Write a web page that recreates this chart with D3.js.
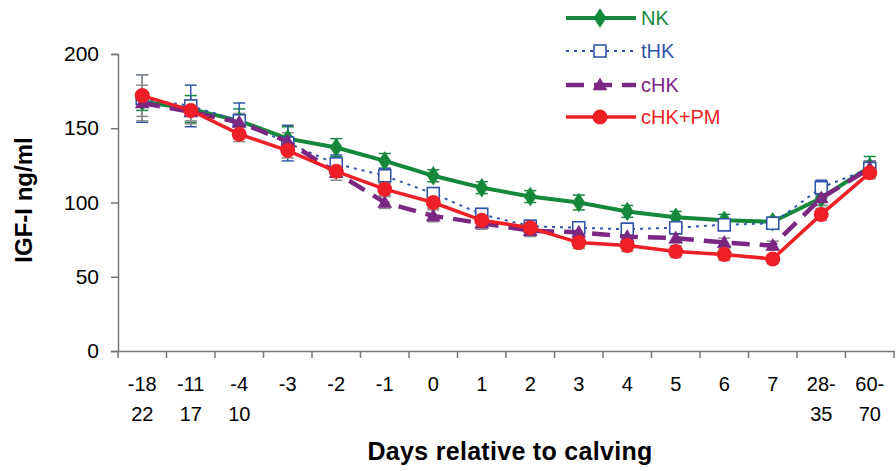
<!DOCTYPE html>
<html>
<head>
<meta charset="utf-8">
<script src="https://cdn.jsdelivr.net/npm/d3@7"></script>
<style>
  body { margin: 0; background: #fff; }
  svg { font-family: "Liberation Sans", Arial, sans-serif; }
</style>
</head>
<body>
<svg id="svg" width="896" height="471"></svg>
<script>
const width = 896;
const height = 471;

// x categories (two-line labels)
const categories = ["-18-22", "-11-17", "-4-10", "-3", "-2", "-1", "0", "1", "2", "3", "4", "5", "6", "7", "28-35", "60-70"];
const labelTop = ["-18", "-11", "-4", "-3", "-2", "-1", "0", "1", "2", "3", "4", "5", "6", "7", "28-", "60-"];
const labelBottom = ["22", "17", "10", "", "", "", "", "", "", "", "", "", "", "", "35", "70"];

const yTicks = [0, 50, 100, 150, 200];

// series means and error bars
const nk = [168, 163, 155, 143, 137, 128, 118, 110, 104, 100, 94, 90, 88, 87, 103, 124];
const nkErr = [6, 9, 8, 8, 6, 5, 4, 4, 4, 5, 4, 4, 4, 3, 5, 7];
const thk = [170, 165, 155, 140, 126, 118, 106, 92, 84, 83, 82, 83, 85, 86, 110, 123];
const thkErr = [16, 14, 12, 12, 6, 5, 4, 4, 4, 4, 4, 4, 4, 4, 5, 5];
const chk = [167, 161, 154, 141, 120, 100, 91, 86, 81, 80, 77, 76, 73, 71, 103, 123];
const chkErr = [12, 8, 6, 6, 5, 4, 4, 4, 4, 4, 4, 3, 3, 3, 5, 5];
const pm = [172, 162, 146, 135, 121, 109, 100, 88, 83, 73, 71, 67, 65, 62, 92, 120];
const pmErr = [14, 7, 5, 5, 4, 4, 4, 4, 4, 4, 4, 4, 4, 3, 4, 4];

const series = [
  { name: "NK", values: nk, err: nkErr, color: "#16883c", errColor: "#16883c", width: 4, dash: null, marker: "diamond" },
  { name: "tHK", values: thk, err: thkErr, color: "#3456a8", errColor: "#3456a8", width: 2, dash: "3,5", marker: "square" },
  { name: "cHK", values: chk, err: chkErr, color: "#7a2882", errColor: "#8c8c8c", width: 4.5, dash: "18,10", marker: "triangle" },
  { name: "cHK+PM", values: pm, err: pmErr, color: "#ee1f26", errColor: "#8c8c8c", width: 3.5, dash: null, marker: "circle" }
];

const svg = d3.select("#svg");

const x = d3.scaleBand().domain(categories).range([118, 894]).padding(0);
const y = d3.scaleLinear().domain([0, 200]).range([351, 54]);
const cx = (i) => x(categories[i]) + x.bandwidth() / 2;

// axes
const axisColor = "#777";
const yAxis = svg.append("g")
  .attr("transform", "translate(118,0)")
  .call(d3.axisLeft(y).tickValues(yTicks).tickSize(7).tickPadding(12));
yAxis.selectAll("text").attr("font-size", 21).attr("fill", "#000");

const xAxis = svg.append("g")
  .attr("transform", "translate(0,351)")
  .call(d3.axisBottom(x).tickValues([]).tickSizeOuter(0));
xAxis.selectAll(".tick").remove();

[yAxis, xAxis].forEach((g) => {
  g.select(".domain").attr("stroke", axisColor).attr("stroke-width", 1.5);
  g.selectAll(".tick line").attr("stroke", axisColor).attr("stroke-width", 1.5);
});

// x ticks at band edges
const edges = categories.map((c) => x(c)).concat([894]);
svg.append("g").selectAll("line")
  .data(edges)
  .enter()
  .append("line")
  .attr("x1", (d) => d).attr("x2", (d) => d)
  .attr("y1", 351).attr("y2", 358)
  .attr("stroke", axisColor).attr("stroke-width", 1.5);

const xLabels = svg.append("g").attr("font-size", 20).attr("text-anchor", "middle");
xLabels.selectAll("text.top")
  .data(labelTop)
  .enter()
  .append("text")
  .attr("class", "top")
  .attr("x", (d, i) => cx(i))
  .attr("y", 391)
  .text((d) => d);
xLabels.selectAll("text.bot")
  .data(labelBottom)
  .enter()
  .append("text")
  .attr("class", "bot")
  .attr("x", (d, i) => cx(i))
  .attr("y", 421)
  .text((d) => d);

svg.append("text")
  .attr("x", 510).attr("y", 460)
  .attr("text-anchor", "middle")
  .attr("font-size", 25).attr("font-weight", "bold")
  .attr("letter-spacing", 0.3)
  .text("Days relative to calving");

svg.append("text")
  .attr("transform", "translate(32,200) rotate(-90)")
  .attr("text-anchor", "middle")
  .attr("font-size", 24).attr("font-weight", "bold")
  .text("IGF-I ng/ml");

// error bars
series.forEach((s) => {
  const g = svg.append("g").attr("stroke", s.errColor).attr("stroke-width", 1.5);
  s.values.forEach((v, i) => {
    const xi = cx(i);
    g.append("line").attr("x1", xi).attr("x2", xi).attr("y1", y(v - s.err[i])).attr("y2", y(v + s.err[i]));
    [v - s.err[i], v + s.err[i]].forEach((e) => {
      g.append("line").attr("x1", xi - 6).attr("x2", xi + 6).attr("y1", y(e)).attr("y2", y(e));
    });
  });
});

function drawMarker(g, type, color, px, py) {
  if (type === "diamond") {
    g.append("path").attr("d", d3.symbol(d3.symbolDiamond, 110)()).attr("transform", `translate(${px},${py}) scale(1.15,1)`).attr("fill", color);
  } else if (type === "square") {
    g.append("rect").attr("x", px - 6).attr("y", py - 6).attr("width", 12).attr("height", 12)
      .attr("fill", "#fff").attr("stroke", color).attr("stroke-width", 1.6);
  } else if (type === "triangle") {
    g.append("path").attr("d", d3.symbol(d3.symbolTriangle, 95)()).attr("transform", `translate(${px},${py + 1})`).attr("fill", color);
  } else {
    g.append("circle").attr("cx", px).attr("cy", py).attr("r", 7.5).attr("fill", color);
  }
}

// lines and markers
const line = d3.line().x((d, i) => cx(i)).y((d) => y(d));
series.forEach((s) => {
  svg.append("path")
    .datum(s.values)
    .attr("d", line)
    .attr("fill", "none")
    .attr("stroke", s.color)
    .attr("stroke-width", s.width)
    .attr("stroke-dasharray", s.dash);
  const g = svg.append("g");
  s.values.forEach((v, i) => drawMarker(g, s.marker, s.color, cx(i), y(v)));
});

// legend
const legendY = [18, 51, 85, 117];
series.forEach((s, i) => {
  const g = svg.append("g");
  g.append("line")
    .attr("x1", 566).attr("x2", 636)
    .attr("y1", legendY[i]).attr("y2", legendY[i])
    .attr("stroke", s.color)
    .attr("stroke-width", s.width)
    .attr("stroke-dasharray", s.dash);
  drawMarker(g, s.marker, s.color, 600, legendY[i]);
  g.append("text")
    .attr("x", 641).attr("y", legendY[i] + 7)
    .attr("font-size", 20)
    .attr("fill", s.color)
    .text(s.name);
});
</script>
</body>
</html>
